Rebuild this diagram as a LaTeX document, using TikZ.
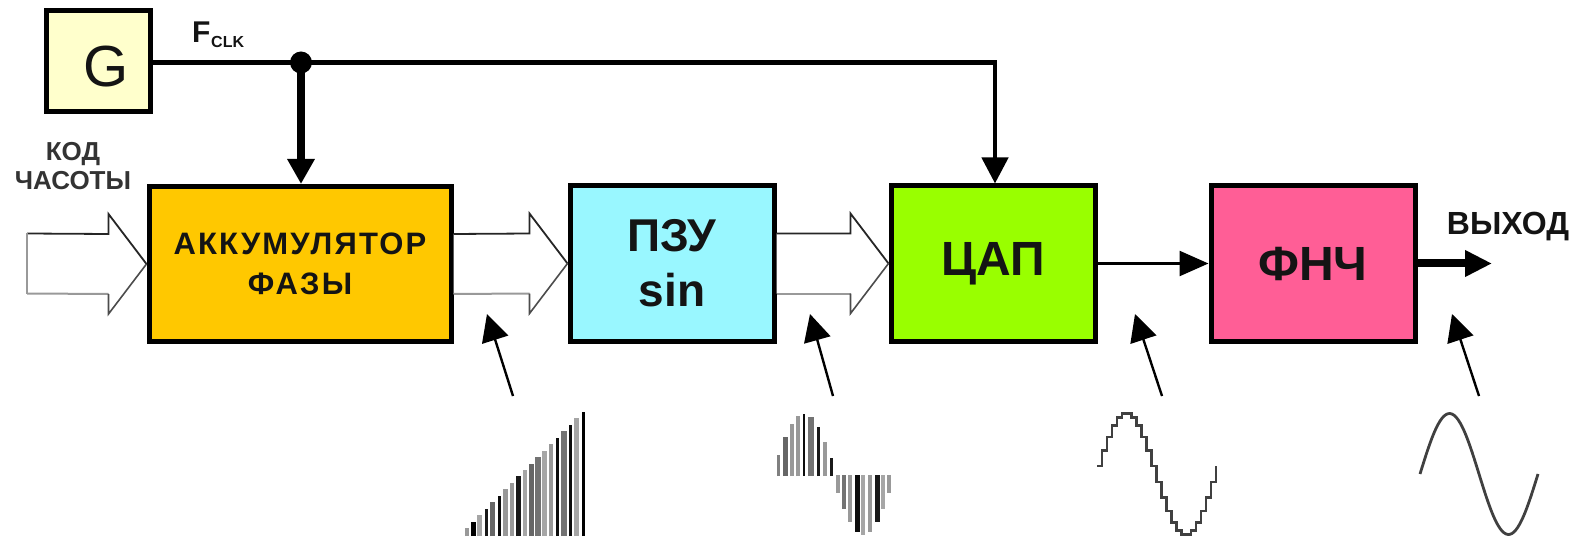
\documentclass[tikz,border=0pt]{standalone}
\usepackage{fontspec}
\setmainfont{Liberation Sans}
\usetikzlibrary{arrows.meta,calc}
\definecolor{ink}{HTML}{141414}
\tikzset{
  blockbox/.style={draw=black,line width=5pt,minimum width=#1,minimum height=155pt,inner sep=0pt,align=center,font=\bfseries,text=ink},
  label/.style={inner sep=0pt,text=ink,font=\bfseries},
  thin link/.style={draw=black,line width=2.6pt},
  thick link/.style={draw=black,line width=8pt},
  pointer/.style={draw=black,line width=2.4pt,-{Triangle[length=27pt,width=27pt]}},
  signalbar/.style={line width=#1},
}
\newcommand{\hollowarrow}[2]{%
  \fill[white] ([yshift=30pt]#1.east) -- ([xshift=-38pt,yshift=30pt]#2.west) -- ([xshift=-38pt,yshift=50pt]#2.west) -- (#2.west) -- ([xshift=-38pt,yshift=-50pt]#2.west) -- ([xshift=-38pt,yshift=-30pt]#2.west) -- ([yshift=-30pt]#1.east) -- cycle;
  \draw[black!85,line width=1.8pt] ([yshift=30pt]#1.east) -- ([xshift=-38pt,yshift=30pt]#2.west) -- ([xshift=-38pt,yshift=50pt]#2.west) -- (#2.west);
  \draw[black!40,line width=2pt] ([yshift=-30pt]#1.east) -- ([xshift=-38pt,yshift=-30pt]#2.west);
  \draw[black!70,line width=1.6pt] ([xshift=-38pt,yshift=-30pt]#2.west) -- ([xshift=-38pt,yshift=-50pt]#2.west) -- (#2.west);
}
\begin{document}
\begin{tikzpicture}[x=1pt,y=-1pt]
\useasboundingbox (0,0) rectangle (1584,537);
% blocks
\node[blockbox=104pt,minimum height=101pt,fill={rgb,255:red,255;green,255;blue,204}] (gen) at (98,61.5) {};
\node[inner sep=0pt,text=ink,font=\fontsize{58}{58}\selectfont,anchor=base] (gl) at (106,87) {G};
\node[blockbox=302pt,fill={rgb,255:red,255;green,200;blue,0},font=\fontsize{31}{40}\selectfont\bfseries\addfontfeature{LetterSpace=7}] (acc) at (300,264) {АККУМУЛЯТОР\\ФАЗЫ};
\node[blockbox=204pt,fill={rgb,255:red,153;green,247;blue,255},font=\fontsize{46}{55}\selectfont\bfseries] (rom) at (672,263.5) {ПЗУ\\sin};
\node[blockbox=204pt,fill={rgb,255:red,153;green,255;blue,0},font=\fontsize{48}{55}\selectfont\bfseries] (dac) at (993,263.5) {\raisebox{-2pt}{ЦАП}};
\node[blockbox=204pt,fill={rgb,255:red,255;green,94;blue,150},font=\fontsize{48}{50}\selectfont\bfseries] (lpf) at (1313,263.5) {\raisebox{-3pt}{ФНЧ}};
% labels
\node[label,anchor=base west] (fmain) at (192,43) {\fontsize{30}{30}\selectfont F};
\node[label,anchor=base west] (fsub) at (211,48) {\fontsize{16}{16}\selectfont CLK};
\node[label,align=center,font=\fontsize{26}{29}\selectfont\bfseries,text=black!80] (code) at (73,166) {КОД\\ЧАСОТЫ};
\node[label,font=\fontsize{32}{32}\selectfont\bfseries] (out) at (1508,227) {ВЫХОД};
% clock
\coordinate (junction) at (301,62.5);
\coordinate (bend) at (995,62.5);
\draw[thin link,line width=4.5pt] (gen.east |- junction) -- (bend);
\draw[thick link,line width=8pt,-{Triangle[length=25pt,width=26pt]}] (junction) -- (acc.north -| junction);
\draw[thin link,line width=4.5pt,-{Triangle[length=26pt,width=26pt]}] ([yshift=2.25pt]bend) -- (dac.north -| bend);
\fill[black] (junction) circle (11pt);
% data arrows
\node[inner sep=0pt,minimum size=0pt] (inleft) at (27,263.5) {};
\hollowarrow{inleft}{acc}
\draw[black!40,line width=2pt] ([yshift=30pt]inleft.center) -- ([yshift=-30pt]inleft.center);
\hollowarrow{acc}{rom}
\hollowarrow{rom}{dac}
\draw[thin link,line width=2.6pt,-{Triangle[length=29pt,width=25pt]}] (dac.east) -- (lpf.west);
\coordinate (outend) at (1492,263.5);
\draw[thick link,-{Triangle[length=27pt,width=25pt]}] (lpf.east) -- (outend);
% pointers
\coordinate (t1) at (487,314); \coordinate (b1) at (513,396);
\coordinate (t2) at (810,314); \coordinate (b2) at (833,396);
\coordinate (t3) at (1135,314); \coordinate (b3) at (1162,396);
\coordinate (t4) at (1452,314); \coordinate (b4) at (1479,396);
\foreach \k in {1,2,3,4} \draw[pointer] (b\k) -- (t\k);
% ramp
\foreach \i/\c/\w in {0/40/4.5,1/100/4.5,2/35/5,3/90/3,4/60/5,5/95/3,6/40/4.5,7/40/4.5,8/90/4.5,9/35/4.5,10/60/4.5,11/55/5.5,12/35/4.5,13/40/4.5,14/95/3,15/55/5.5,16/95/3,17/35/4.5,18/100/3}
  \draw[black!\c,signalbar=\w pt] ({467+6.45*\i},536) -- ({467+6.45*\i},{528-6.45*\i});
% sampled sine
\foreach \x/\c/\w in {778/50/3,785/60/5,792/40/4.5,798/40/4.5,804/95/2.8,811/55/5.5,818/90/3,825/40/4.5,831/90/3}
  \draw[black!\c,signalbar=\w pt] (\x,476) -- (\x,{476-62*sin((\x-770.5)*2.69)});
\foreach \x/\c/\w in {838/40/4.5,844/55/4,850/40/4.5,857/95/5,863/35/4.5,870/40/4.5,877/90/5,883/35/4.5,889/40/4}
  \draw[black!\c,signalbar=\w pt] (\x,475) -- (\x,{475+60*sin((\x-832)*2.86)});
% stepped sine
\draw[black!75,line width=2.5pt] plot[const plot,domain=0:360,samples=25] ({1097+\x/360*119},{474-61*sin(\x+7.5)});
% smooth sine
\draw[black!75,line width=2.8pt] plot[smooth,domain=0:360,samples=60] ({1420+\x/360*118},{474-60.5*sin(\x)});
\end{tikzpicture}
\end{document}
